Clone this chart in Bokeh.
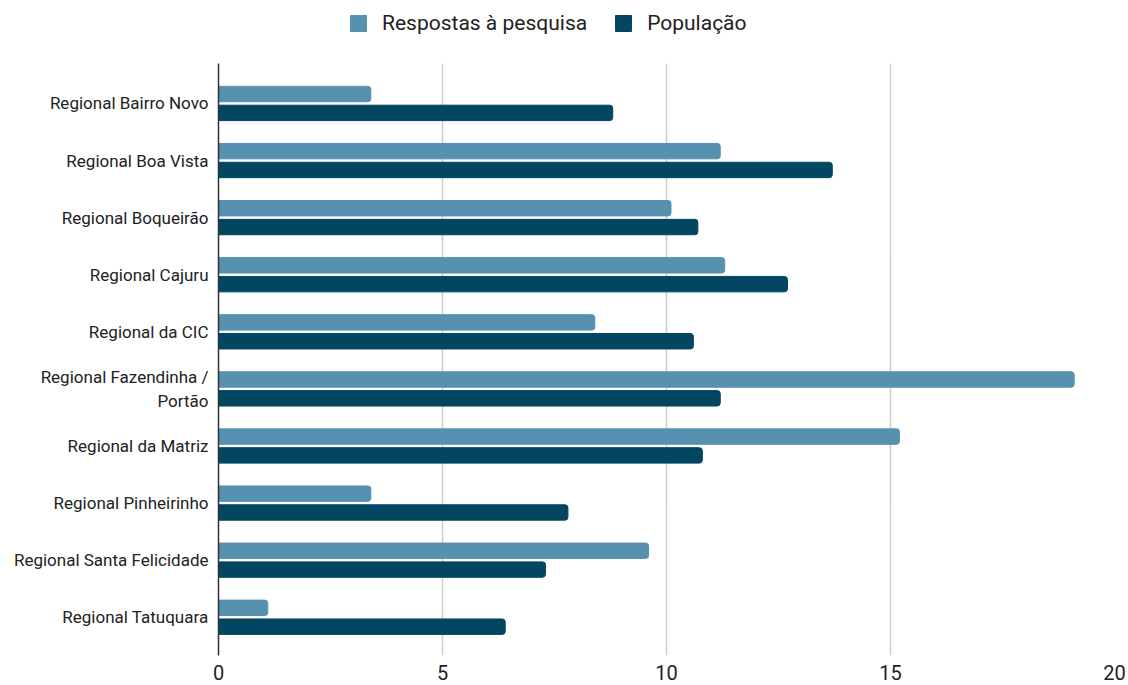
from bokeh.plotting import figure
from bokeh.models import Range1d, FixedTicker, Legend, LegendItem
from bokeh.layouts import column
from bokeh.embed import file_html
from bokeh.resources import INLINE

categories = ["Regional Bairro Novo", "Regional Boa Vista", "Regional Boqueirão",
              "Regional Cajuru", "Regional da CIC", "Regional Fazendinha /\nPortão",
              "Regional da Matriz", "Regional Pinheirinho", "Regional Santa Felicidade",
              "Regional Tatuquara"]
respostas = [3.4, 11.2, 10.1, 11.3, 8.4, 19.1, 15.2, 3.4, 9.6, 1.1]
populacao = [8.8, 13.7, 10.7, 12.7, 10.6, 11.2, 10.8, 7.8, 7.3, 6.4]
x_ticks = [0, 5, 10, 15, 20]
series_names = ["Respostas à pesquisa", "População"]
colors = ["#5891af", "#024662"]

n = len(categories)
ypos = [n - 1 - i for i in range(n)]

# Main chart
p = figure(width=1128, height=622, output_backend="svg", toolbar_location=None,
           x_range=Range1d(0, 20), y_range=Range1d(-0.67, n - 1 + 0.7),
           min_border_left=218, min_border_right=14, min_border_top=0, min_border_bottom=30)
p.outline_line_color = None
p.background_fill_color = "white"

r1 = p.hbar(y=[v + 0.165 for v in ypos], right=respostas, left=0, height=0.27,
            color=colors[0], border_radius=(0, 3, 3, 0))
r2 = p.hbar(y=[v - 0.165 for v in ypos], right=populacao, left=0, height=0.27,
            color=colors[1], border_radius=(0, 3, 3, 0))

p.xaxis.ticker = FixedTicker(ticks=x_ticks)
p.xaxis.axis_line_color = None
p.xaxis.major_tick_line_color = None
p.xaxis.minor_tick_line_color = None
p.xaxis.major_label_text_font = "Roboto"
p.xaxis.major_label_text_font_size = "20px"
p.xaxis.major_label_text_color = "#222222"
p.xaxis.major_label_standoff = 3

p.yaxis.ticker = FixedTicker(ticks=ypos)
p.yaxis.major_label_overrides = {ypos[i]: categories[i] for i in range(n)}
p.yaxis.axis_line_color = "#333333"
p.yaxis.axis_line_width = 1.5
p.yaxis.major_tick_line_color = None
p.yaxis.minor_tick_line_color = None
p.yaxis.major_label_text_font = "Roboto"
p.yaxis.major_label_text_font_size = "17px"
p.yaxis.major_label_text_color = "#222222"
p.yaxis.major_label_standoff = 4

p.xgrid.grid_line_color = "#cccccc"
p.xgrid.grid_line_width = 1.5
p.ygrid.grid_line_color = None

# Legend strip above the chart (swatches only; its single hidden bars lie outside its view)
lf = figure(width=1128, height=63, output_backend="svg", toolbar_location=None,
            x_range=Range1d(0, 1), y_range=Range1d(0, 1), min_border=0)
lf.axis.visible = False
lf.grid.grid_line_color = None
lf.outline_line_color = None
l1 = lf.hbar(y=[-10], right=[1], left=0, height=0.5, color=colors[0], border_radius=2)
l2 = lf.hbar(y=[-10], right=[1], left=0, height=0.5, color=colors[1], border_radius=2)
legend = Legend(items=[LegendItem(label=series_names[0], renderers=[l1]),
                       LegendItem(label=series_names[1], renderers=[l2])],
                orientation="horizontal", location=(130, 28),
                label_text_font="Roboto", label_text_font_size="21px",
                label_text_color="#222222", glyph_width=20, glyph_height=20,
                label_standoff=14, spacing=26, border_line_color=None,
                background_fill_alpha=0, margin=0, padding=2)
lf.add_layout(legend, "center")

open("out.html", "w").write(file_html(column(lf, p, spacing=0), INLINE))
